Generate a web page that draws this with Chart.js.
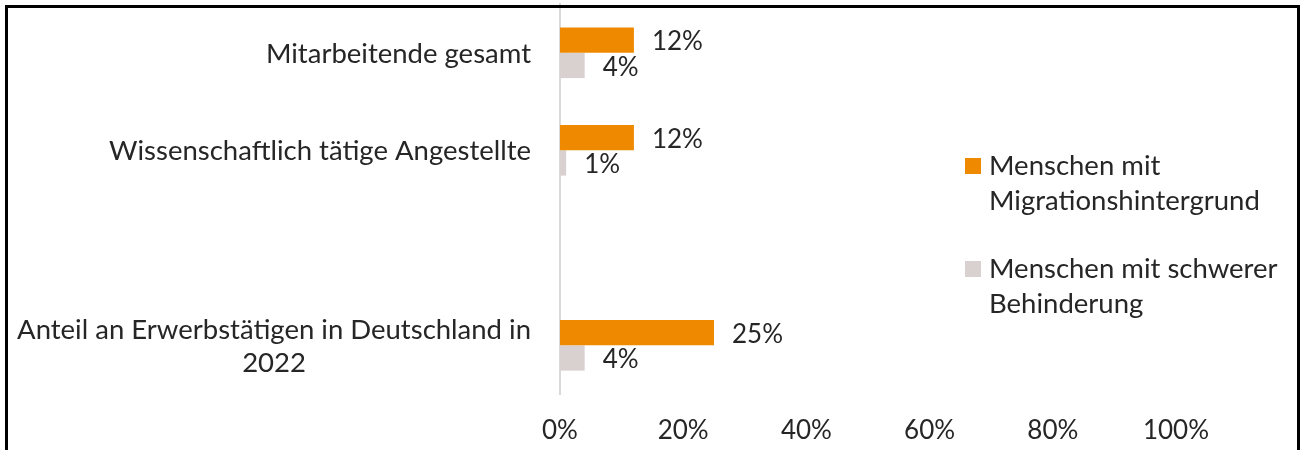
<!DOCTYPE html>
<html>
<head>
<meta charset="utf-8">
<title>Anteile Mitarbeitende</title>
<script src="https://cdn.jsdelivr.net/npm/chart.js@4"></script>
<style>
  html, body { margin: 0; padding: 0; background: #fff; overflow: hidden; }
  #wrap { position: relative; width: 1301px; height: 450px; }
  #frame {
    position: absolute; left: 5px; top: 5px;
    width: 1289px; height: 470px;
    border: 3px solid #000; pointer-events: none;
  }
</style>
</head>
<body>
<div id="wrap">
  <canvas id="chart" width="1301" height="450"></canvas>
  <div id="frame"></div>
</div>

<script>
// Daten
const categories = [
  'Mitarbeitende gesamt',
  'Wissenschaftlich tätige Angestellte',
  '',
  ['Anteil an Erwerbstätigen in Deutschland in', '2022']
];
const migration = [12, 12, null, 25];
const behinderung = [4, 1, null, 4];
const seriesNames = [
  ['Menschen mit', 'Migrationshintergrund'],
  ['Menschen mit schwerer', 'Behinderung']
];
const xTicks = [0, 20, 40, 60, 80, 100];

const FONT_FAMILY = 'Lato, "Noto Sans", sans-serif';
const LABEL_SIZE = 27.5;   // Kategorien + Legende
const NUM_SIZE = 26;       // Werte + Achse
const TEXT = '#262626';
const ORANGE = '#EF8A00';
const GREY = '#D8D1CF';

// Kategorienbeschriftung (mehrzeilig zentriert, rechtsbündig am Block)
const catLabels = {
  id: 'catLabels',
  afterDraw(chart) {
    const ctx = chart.ctx;
    const y = chart.scales.y;
    const lineH = 33;
    ctx.save();
    ctx.font = LABEL_SIZE + 'px ' + FONT_FAMILY;
    ctx.fillStyle = TEXT;
    ctx.textBaseline = 'middle';
    ctx.textAlign = 'center';
    categories.forEach((lab, i) => {
      const lines = Array.isArray(lab) ? lab : [lab];
      if (!lines[0]) return;
      const cy = y.getPixelForTick(i) + 1;
      const maxW = Math.max(...lines.map(l => ctx.measureText(l).width));
      const right = chart.chartArea.left - 29;
      lines.forEach((l, j) => {
        ctx.fillText(l, right - maxW / 2, cy + (j - (lines.length - 1) / 2) * lineH);
      });
    });
    ctx.restore();
  }
};

// Wertebeschriftung rechts neben den Balken
const valueLabels = {
  id: 'valueLabels',
  afterDatasetsDraw(chart) {
    const ctx = chart.ctx;
    ctx.save();
    ctx.font = NUM_SIZE + 'px ' + FONT_FAMILY;
    ctx.fillStyle = TEXT;
    ctx.textBaseline = 'middle';
    ctx.textAlign = 'left';
    chart.data.datasets.forEach((ds, di) => {
      chart.getDatasetMeta(di).data.forEach((bar, i) => {
        const v = ds.data[i];
        if (v === null) return;
        ctx.fillText(v + '%', bar.x + 18, bar.y + 2);
      });
    });
    ctx.restore();
  }
};

// Legende im Diagrammbereich rechts
const sideLegend = {
  id: 'sideLegend',
  afterDraw(chart) {
    const ctx = chart.ctx;
    const x0 = 965, lineH = 35;
    const tops = [166, 269];
    ctx.save();
    ctx.font = LABEL_SIZE + 'px ' + FONT_FAMILY;
    ctx.textBaseline = 'middle';
    ctx.textAlign = 'left';
    chart.data.datasets.forEach((ds, i) => {
      ctx.fillStyle = ds.backgroundColor;
      ctx.fillRect(x0, tops[i] - 8, 16, 16);
      ctx.fillStyle = TEXT;
      seriesNames[i].forEach((l, j) => ctx.fillText(l, x0 + 24, tops[i] + j * lineH));
    });
    ctx.restore();
  }
};

new Chart(document.getElementById('chart'), {
  type: 'bar',
  data: {
    labels: categories,
    datasets: [
      { label: seriesNames[0].join(' '), data: migration, backgroundColor: ORANGE },
      { label: seriesNames[1].join(' '), data: behinderung, backgroundColor: GREY }
    ]
  },
  options: {
    indexAxis: 'y',
    responsive: false,
    animation: false,
    categoryPercentage: 0.52,
    barPercentage: 1,
    layout: { padding: { top: 4, right: 125, bottom: 0, left: 0 } },
    plugins: {
      legend: { display: false },
      tooltip: { enabled: false }
    },
    scales: {
      x: {
        min: 0,
        max: 100,
        afterBuildTicks(scale) {
          scale.ticks = xTicks.map(v => ({ value: v }));
        },
        afterFit(scale) { scale.height = 56; },
        grid: { display: false, drawTicks: false },
        border: { display: false },
        ticks: {
          padding: 21,
          color: TEXT,
          font: { family: FONT_FAMILY, size: NUM_SIZE },
          callback: v => v + '%'
        }
      },
      y: {
        afterFit(scale) { scale.width = 560; },
        grid: { display: false, drawTicks: false },
        border: { display: true, color: '#D9D9D9', width: 2 },
        ticks: { display: false }
      }
    }
  },
  plugins: [catLabels, valueLabels, sideLegend]
});
</script>
</body>
</html>
